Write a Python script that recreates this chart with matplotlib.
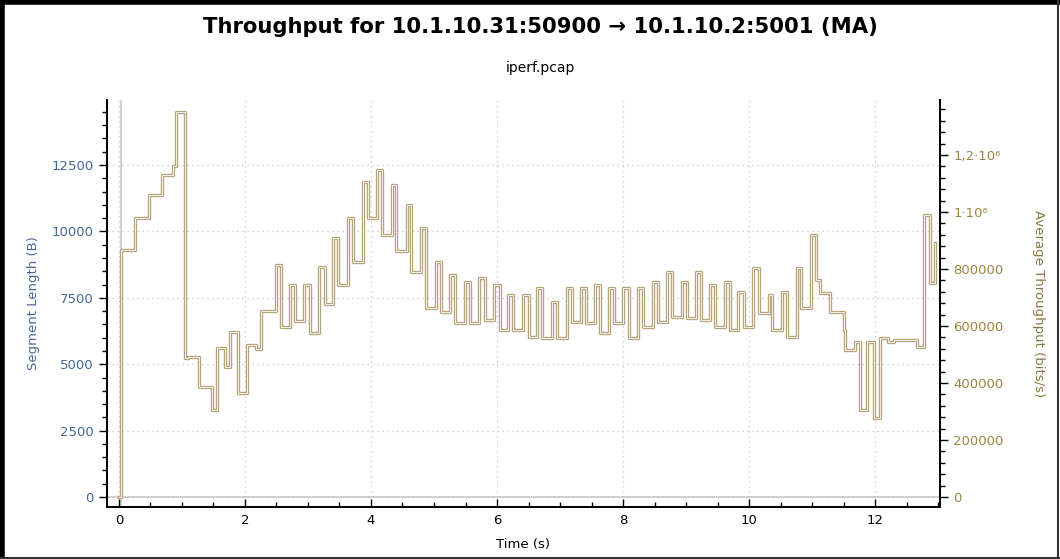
import matplotlib.pyplot as plt
from matplotlib.ticker import MultipleLocator, FixedLocator, FixedFormatter
from matplotlib.lines import Line2D

# moving average throughput, step changes (time s, bits/s)
times = [0.00, 0.03, 0.25, 0.48, 0.69, 0.86, 0.90, 1.05, 1.10, 1.27, 1.47, 1.55, 1.68, 1.77, 1.89,
         2.03, 2.18, 2.26, 2.50, 2.57, 2.71, 2.79, 2.94, 3.03, 3.18, 3.27, 3.40, 3.48, 3.64, 3.71,
         3.88, 3.95, 4.09, 4.17, 4.33, 4.40, 4.57, 4.64, 4.80, 4.88, 5.03, 5.11, 5.25, 5.33, 5.49,
         5.57, 5.72, 5.81, 5.95, 6.04, 6.18, 6.26, 6.42, 6.50, 6.63, 6.71, 6.87, 6.95, 7.11, 7.19,
         7.34, 7.42, 7.56, 7.63, 7.78, 7.86, 8.00, 8.10, 8.24, 8.32, 8.48, 8.56, 8.69, 8.78, 8.93,
         9.01, 9.16, 9.23, 9.38, 9.46, 9.62, 9.70, 9.83, 9.92, 10.07, 10.15, 10.31, 10.36, 10.52,
         10.60, 10.76, 10.83, 10.99, 11.06, 11.12, 11.29, 11.50, 11.53, 11.68, 11.76, 11.87, 11.99,
         12.08, 12.20, 12.30, 12.66, 12.77, 12.87, 12.95]
throughput = [0, 866000, 978000, 1060000, 1130000, 1160000, 1350000, 488000, 492000, 387000,
              305000, 522000, 457000, 580000, 364000, 533000, 520000, 653000, 814000, 598000,
              744000, 619000, 744000, 577000, 806000, 677000, 908000, 744000, 978000, 826000,
              1106000, 978000, 1147000, 919000, 1095000, 864000, 1025000, 791000, 943000, 662000,
              826000, 650000, 779000, 609000, 756000, 609000, 767000, 621000, 744000, 586000,
              709000, 586000, 709000, 562000, 732000, 557000, 685000, 557000, 732000, 615000,
              732000, 609000, 744000, 574000, 732000, 609000, 732000, 557000, 732000, 598000,
              756000, 615000, 791000, 633000, 756000, 627000, 791000, 621000, 744000, 598000,
              756000, 586000, 720000, 598000, 802000, 644000, 709000, 586000, 720000, 562000,
              802000, 662000, 919000, 761000, 715000, 650000, 586000, 516000, 545000, 305000,
              545000, 276000, 557000, 545000, 551000, 527000, 990000, 750000, 890000]

left_ticks = [0, 2500, 5000, 7500, 10000, 12500]
right_ticks = [0, 200000, 400000, 600000, 800000, 1000000, 1200000]
right_labels = ['0', '200000', '400000', '600000', '800000', '1·10⁶', '1,2·10⁶']
time_ticks = [0, 2, 4, 6, 8, 10, 12]

blue = '#46679a'
tan = '#9c8444'

fig = plt.figure(figsize=(10.6, 5.59), dpi=100)
ax = fig.add_axes([0.1009, 0.093, 0.7859, 0.728])
ax2 = ax.twinx()

# segment length axis (left)
ax.set_xlim(-0.19, 13.03)
ax.set_ylim(-376, 14947)
ax.yaxis.set_major_locator(FixedLocator(left_ticks))
ax.yaxis.set_minor_locator(MultipleLocator(500))
ax.xaxis.set_major_locator(FixedLocator(time_ticks))
ax.xaxis.set_minor_locator(MultipleLocator(0.5))
ax.grid(True, which='major', color='#c4c4c4', linestyle=(0, (1, 3)), linewidth=0.9)
ax.tick_params(axis='y', which='major', direction='out', length=6, width=1, colors='black',
               labelcolor=blue, labelsize=9.5)
ax.tick_params(axis='y', which='minor', direction='out', length=3.5, width=1)
ax.tick_params(axis='x', which='major', direction='in', length=6, width=1, labelsize=9.5, pad=5)
ax.tick_params(axis='x', which='minor', direction='in', length=3.5, width=1)
ax.set_ylabel('Segment Length (B)', color=blue, fontsize=9.5, labelpad=8)
ax.set_xlabel('Time (s)', fontsize=9.5, labelpad=8)

ax.axhline(0, color='#c8c8c8', linewidth=1.2, zorder=1)
ax.axvline(0.03, color='#c8c8c8', linewidth=1.2, zorder=1)

# throughput axis (right)
ax2.set_ylim(-35088, 1393000)
ax2.yaxis.set_major_locator(FixedLocator(right_ticks))
ax2.yaxis.set_major_formatter(FixedFormatter(right_labels))
ax2.yaxis.set_minor_locator(MultipleLocator(40000))
ax2.tick_params(axis='y', which='major', direction='out', length=6, width=1, colors='black',
                labelcolor=tan, labelsize=9.5)
ax2.tick_params(axis='y', which='minor', direction='out', length=3.5, width=1)
ax2.set_ylabel('Average Throughput (bits/s)', color='#8a7640', fontsize=9.5,
               rotation=-90, labelpad=30)

ax2.step(times, throughput, where='post', color='#b3a179', linewidth=2.4, zorder=3)
ax2.step(times, throughput, where='post', color='#f3eee2', linewidth=0.8, zorder=4)

for a in (ax, ax2):
    a.spines['top'].set_visible(False)
    for s in ('left', 'right', 'bottom'):
        a.spines[s].set_linewidth(1.3)

fig.text(0.51, 0.952, 'Throughput for 10.1.10.31:50900 → 10.1.10.2:5001 (MA)',
         ha='center', va='center', fontsize=15.2, fontweight='bold')
fig.text(0.51, 0.878, 'iperf.pcap', ha='center', va='center', fontsize=10)

# window frame
fig.add_artist(Line2D([0.002, 0.002], [0, 1], color='black', linewidth=4, transform=fig.transFigure))
fig.add_artist(Line2D([0, 1], [0.997, 0.997], color='black', linewidth=4, transform=fig.transFigure))
fig.add_artist(Line2D([0.998, 0.998], [0, 1], color='#333333', linewidth=1.5, transform=fig.transFigure))
fig.add_artist(Line2D([0, 1], [0.002, 0.002], color='#333333', linewidth=1.5, transform=fig.transFigure))

fig.savefig('out.png', dpi=100)
